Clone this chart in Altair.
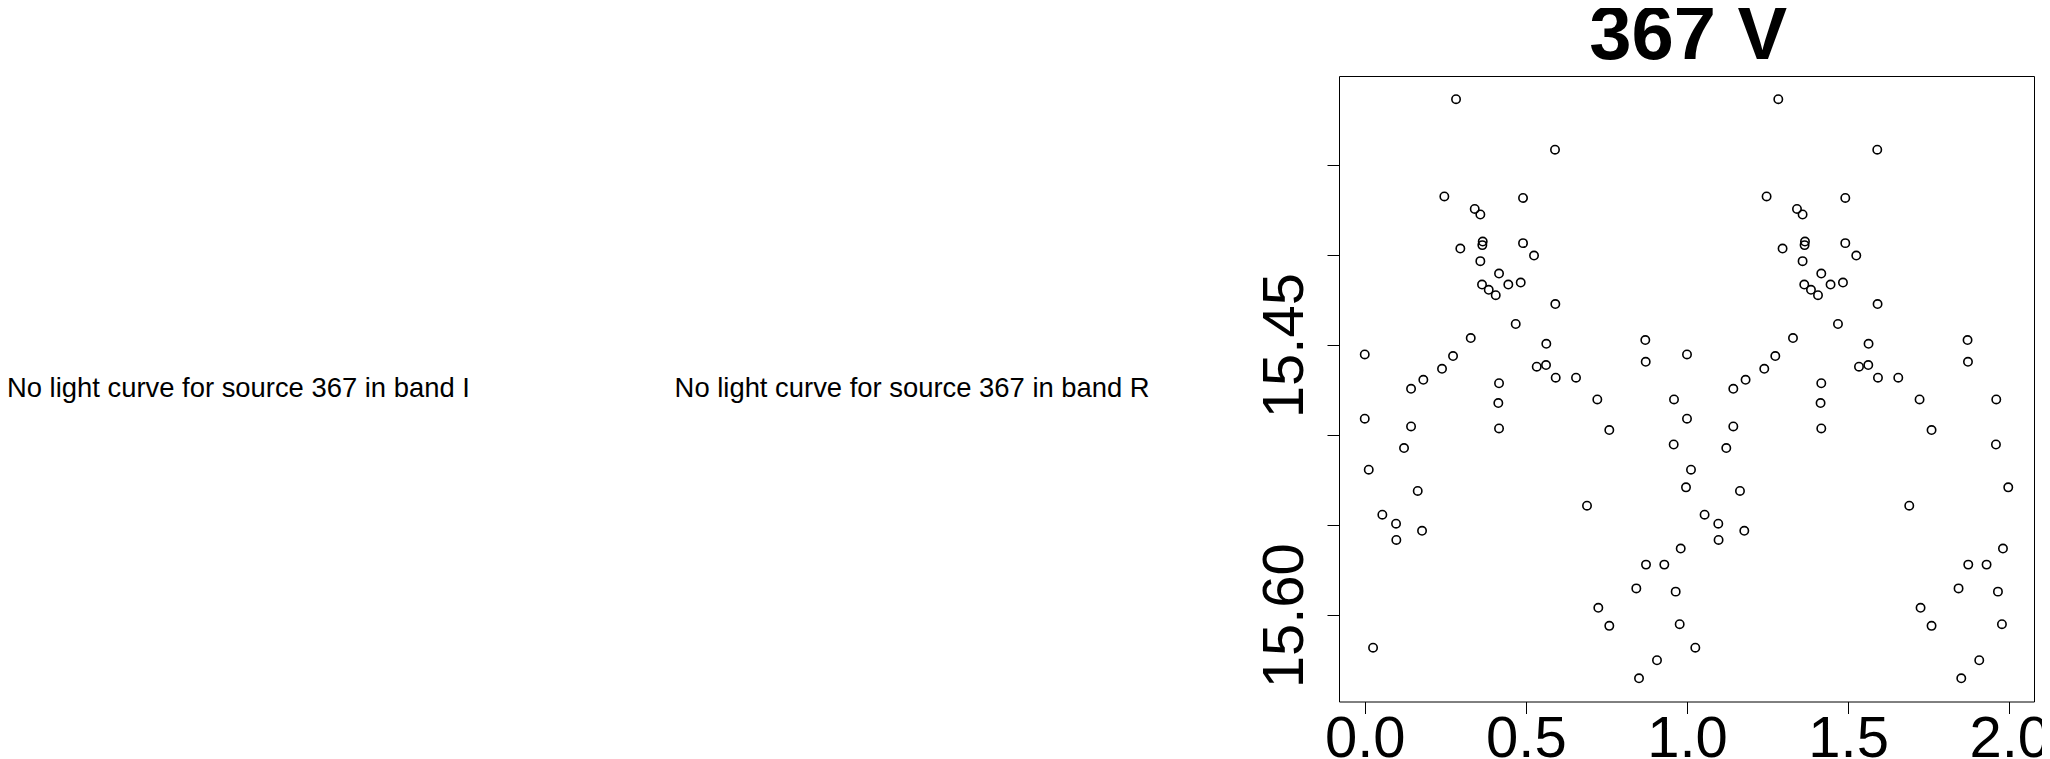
import altair as alt
import pandas as pd

# ---- data (phase-folded V-band light curve) ----
phase = [0.0000, 0.0000, 0.0124, 0.0258, 0.0546, 0.0971, 0.0980, 0.1219, 0.1437, 0.1437,
         0.1644, 0.1778, 0.1818, 0.2398, 0.2470, 0.2740, 0.2833, 0.2966, 0.3289, 0.3413,
         0.3587, 0.3587, 0.3649, 0.3661, 0.3639, 0.3847, 0.4065, 0.4145, 0.4167, 0.4167,
         0.4167, 0.4455, 0.4685, 0.4840, 0.4912, 0.4912, 0.5253, 0.5337, 0.5625, 0.5634,
         0.5904, 0.5914, 0.5926, 0.6556, 0.6897, 0.7217, 0.7248, 0.7589, 0.7589, 0.8511,
         0.8427, 0.8706, 0.8719, 0.8728, 0.9069, 0.9296, 0.9587, 0.9597, 0.9649, 0.9773,
         0.9805, 0.9969]
mag = [15.4552, 15.4909, 15.5192, 15.6180, 15.5442, 15.5492, 15.5582, 15.5072, 15.4952, 15.4743,
       15.5310, 15.5531, 15.4693, 15.4632, 15.3675, 15.4561, 15.3135, 15.3964, 15.4461, 15.3744,
       15.3775, 15.4034, 15.3945, 15.3925, 15.4164, 15.4193, 15.4223, 15.4822, 15.4712, 15.4963,
       15.4103, 15.4164, 15.4383, 15.4153, 15.3683, 15.3934, 15.4003, 15.4620, 15.4611, 15.4493,
       15.3415, 15.4272, 15.4681, 15.4681, 15.5392, 15.4802, 15.5959, 15.4972, 15.6059, 15.6350,
       15.5851, 15.4472, 15.4593, 15.5719, 15.6250, 15.5719, 15.5052, 15.4802, 15.5869, 15.6050,
       15.5630, 15.5290]

panel_texts = ["No light curve for source 367 in band I",
               "No light curve for source 367 in band R"]
title_text = "367 V"
x_ticks = [0.0, 0.5, 1.0, 1.5, 2.0]
y_ticks = [15.35, 15.40, 15.45, 15.50, 15.55, 15.60]
y_labelled = [15.45, 15.60]

# the light curve is drawn over two cycles (phase and phase + 1)
df = pd.DataFrame({"phase": phase + [p + 1 for p in phase], "mag": mag + mag})

FONT = "Liberation Sans"
W, H = 695, 625.5

label_test = " || ".join(f"abs(datum.value - {v}) < 1e-6" for v in y_labelled)
y_label_expr = f"({label_test}) ? format(datum.value, '.2f') : ''"

points = alt.Chart(df).mark_point(
    shape="circle", filled=False, color="black", size=70, strokeWidth=1.6, opacity=1
).encode(
    x=alt.X("phase:Q",
            scale=alt.Scale(domain=[-0.0799, 2.0768], nice=False, zero=False),
            axis=alt.Axis(values=x_ticks, format=".1f", title=None, grid=False, domain=False,
                          tickSize=12, tickColor="black", tickWidth=1,
                          labelFontSize=58, labelFont=FONT, labelColor="black",
                          labelPadding=-3, labelFlush=False, labelOverlap=False)),
    y=alt.Y("mag:Q",
            scale=alt.Scale(domain=[15.3006, 15.6479], reverse=True, nice=False, zero=False),
            axis=alt.Axis(values=y_ticks, labelExpr=y_label_expr, title=None, grid=False,
                          domain=False, tickSize=12, tickColor="black", tickWidth=1,
                          labelFontSize=58, labelFont=FONT, labelColor="black",
                          labelAngle=270, labelAlign="center", labelBaseline="bottom",
                          labelPadding=13, labelFlush=False, labelOverlap=False)),
)

text_i = alt.Chart(pd.DataFrame({"t": [panel_texts[0]]})).mark_text(
    align="left", baseline="alphabetic", font=FONT, fontSize=27.4, color="black"
).encode(text="t:N", x=alt.value(-1332), y=alt.value(320.7))

text_r = alt.Chart(pd.DataFrame({"t": [panel_texts[1]]})).mark_text(
    align="left", baseline="alphabetic", font=FONT, fontSize=27.4, color="black"
).encode(text="t:N", x=alt.value(-664.4), y=alt.value(320.7))

title = alt.Chart(pd.DataFrame({"t": [title_text]})).mark_text(
    align="center", baseline="alphabetic", font=FONT, fontSize=76, fontWeight="bold",
    color="black"
).encode(text="t:N", x=alt.value(349.5), y=alt.value(-17))

chart = alt.layer(points, text_i, text_r, title).properties(
    width=W, height=H,
    autosize=alt.AutoSizeParams(type="none"),
    padding={"left": 1331, "top": 68, "right": 8, "bottom": 60},
    background="white",
).configure_view(stroke="black", strokeWidth=1)

chart.save("out.html", embed_options={"renderer": "svg", "actions": False})
